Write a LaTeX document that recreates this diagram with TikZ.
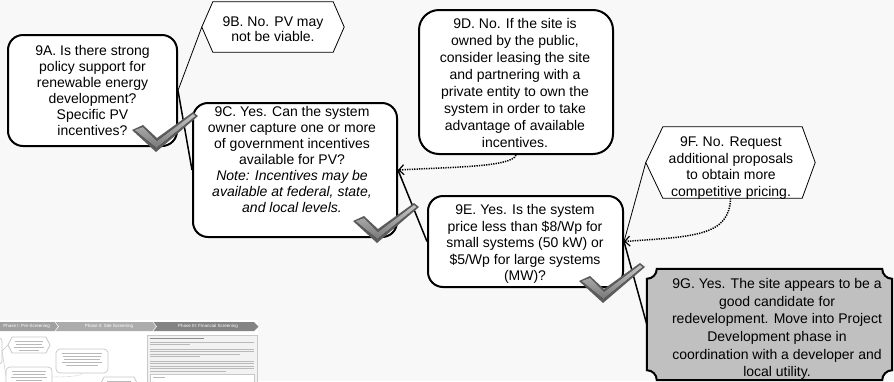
\documentclass[tikz,border=0pt]{standalone}
\usepackage{fontspec}
\setmainfont{Liberation Sans}
\usetikzlibrary{arrows.meta,fit}
\definecolor{bg}{RGB}{248,248,248}
\definecolor{plaquefill}{RGB}{192,192,192}
\definecolor{tickdark}{RGB}{92,92,92}
\definecolor{ticklight}{RGB}{196,196,196}
\definecolor{tickmid}{RGB}{120,120,120}
\definecolor{minigray}{RGB}{200,200,200}
\definecolor{minitext}{RGB}{185,185,185}
\definecolor{phaseA}{RGB}{160,160,160}
\definecolor{phaseB}{RGB}{172,172,172}
\definecolor{phaseC}{RGB}{132,132,132}
\tikzset{
  checkmark/.pic={
    \fill[tickdark] (-24,-22) -- (-13,-27) -- (1,-14) -- (37,-40) -- (42,-36) -- (0,0) -- cycle;
    \fill[top color=ticklight, bottom color=tickmid]
      (-21.5,-22) -- (-13,-25) -- (1,-11) -- (37,-38) -- (39.5,-36) -- (0.5,-4) -- cycle;
  }
}
\begin{document}
\begin{tikzpicture}[x=1pt,y=-1pt,
  area/.style={inner sep=0pt},
  roundbox/.style={draw=black, line width=2pt, fill=white, rounded corners=15pt},
  bigroundbox/.style={draw=black, line width=2pt, fill=white, rounded corners=20pt},
  hexline/.style={draw=black, line width=0.8pt, fill=white, line join=miter},
  plaque/.style={draw=black, line width=2pt, fill=plaquefill},
  txt/.style={inner sep=0pt, align=center, font=\fontsize{14}{#1}\selectfont},
  txt/.default=16,
  yesline/.style={draw=black, line width=1.5pt},
  noline/.style={draw=black, line width=0.8pt},
  backarrow/.style={draw=black, line width=1.5pt, dash pattern=on 1.3pt off 1.1pt,
    -{Straight Barb[length=5pt,width=10pt,line width=1.2pt]}},
  mini/.style={draw=minigray, line width=0.7pt, fill=white},
  minibar/.style={draw=minitext, line width=0.9pt},
  minilabel/.style={inner sep=0pt, text=white, font=\fontsize{4.5}{5}\selectfont}
]
\useasboundingbox (0,0) rectangle (894,381);
\fill[bg] (0,0) rectangle (894,381);

% ---------- miniature of the full screening chart ----------
\fill[white] (0,320) rectangle (258,381);
\fill[phaseA] (-30,322) -- (55,322) -- (58.5,326.5) -- (55,331) -- (-30,331) -- cycle;
\fill[phaseB] (55,322) -- (153,322) -- (156.5,326.5) -- (153,331) -- (55,331) -- (58.5,326.5) -- cycle;
\fill[phaseC] (153,322) -- (254,322) -- (258.5,326.5) -- (254,331) -- (153,331) -- (156.5,326.5) -- cycle;
\draw[white, line width=0.5pt] (55,322) -- (58.5,326.5) -- (55,331) (153,322) -- (156.5,326.5) -- (153,331);
\node[minilabel, anchor=east] (ph1) at (50,326.6) {Phase I: Pre-Screening};
\node[minilabel] (ph2) at (109,326.6) {Phase II: Site Screening};
\node[minilabel] (ph3) at (208,326.6) {Phase III: Financial Screening};

\draw[mini, rounded corners=3pt] (-20,338) rectangle (2,364);
\draw[minigray, line width=0.5pt] (2,351) -- (8,345) (2,351) -- (6,376);
\draw[minigray, line width=0.5pt, dash pattern=on 0.6pt off 0.6pt] (82,373) .. controls (82,376) and (70,377) .. (52,377);
\draw[mini] (8,345) -- (12,337) -- (46,337) -- (50,345) -- (46,353) -- (12,353) -- cycle;
\foreach \yy/\ww in {341/14,344/13,347/15,350/10} \draw[minibar] (29-\ww,\yy) -- (29+\ww,\yy);
\draw[mini, rounded corners=4pt] (56,349) rectangle (108,373);
\foreach \yy/\ww in {353/20,356/19,359/18,362/20,365/16} \draw[minibar] (82-\ww,\yy) -- (82+\ww,\yy);
\draw[mini, rounded corners=4pt] (6,367) rectangle (52,392);
\foreach \yy/\ww in {371/17,374/16,377/18,380/13} \draw[minibar] (29-\ww,\yy) -- (29+\ww,\yy);
\draw[mini] (100,385) -- (104,377) -- (134,377) -- (138,385) -- (134,393) -- (104,393) -- cycle;
\foreach \yy/\ww in {381/12} \draw[minibar] (119-\ww,\yy) -- (119+\ww,\yy);
\draw[draw=minigray, fill=black!5, line width=0.7pt] (147,335) rectangle (257,390);
\draw[draw=black!45, line width=1pt] (150,338.5) -- (204,338.5);
\foreach \yy/\xe in {342/254,344.5/190,349/254,351.5/254,354/240,356.5/200,361/254,363.5/254,366/254,368.5/254,371/226}
  \draw[minibar] (150,\yy) -- (\xe,\yy);
\draw[mini] (150,374.5) rectangle (254,390);
\draw[minibar] (153,377) -- (165,377);

% ---------- decision boxes ----------
\node[fit={(8,35) (177,146)}, area, roundbox] (A) {};
\node[fit={(202,2) (344,52)}, area] (B) {};
\node[fit={(193,103) (397,237)}, area, roundbox] (C) {};
\node[fit={(419,10) (613,154)}, area, bigroundbox] (D) {};
\node[fit={(428,196) (623,287)}, area, roundbox] (E) {};
\node[fit={(646,127) (815,198)}, area] (F) {};
\node[fit={(647,269) (892,380)}, area] (G) {};

\draw[hexline] (B.west) -- ([xshift=11pt]B.north west) -- ([xshift=-11pt]B.north east) -- (B.east)
  -- ([xshift=-11pt]B.south east) -- ([xshift=11pt]B.south west) -- cycle;
\draw[hexline] (F.west) -- ([xshift=17pt]F.north west) -- ([xshift=-13pt]F.north east) -- (F.east)
  -- ([xshift=-13pt]F.south east) -- ([xshift=17pt]F.south west) -- cycle;
\draw[plaque] ([xshift=10pt]G.north west) -- ([xshift=-10pt]G.north east) arc[start angle=180,end angle=90,radius=10]
  -- ([yshift=10pt]G.south east) arc[start angle=270,end angle=180,radius=10]
  -- ([xshift=10pt]G.south west) arc[start angle=0,end angle=-90,radius=10]
  -- ([yshift=-10pt]G.north west) arc[start angle=90,end angle=0,radius=10] -- cycle;

% ---------- connectors ----------
\draw[noline] (A.east) -- (B.west);
\draw[yesline] (A.east) -- (C.west);
\draw[yesline] (C.east) -- (E.west);
\draw[noline] (E.east) -- (F.west);
\draw[yesline] (E.east) -- (G.west);
\draw[backarrow] (D.south) .. controls +(-4,12) and +(55,-3) .. (C.east);
\draw[backarrow] (F.south) .. controls +(-1,38) and +(70,-5) .. (E.east);

% ---------- texts ----------
\node[txt] (tA) at (92.5,90) {9A. Is there strong\\policy support for\\renewable energy\\development?\\Specific PV\\incentives?};
\node[txt=15] (tB) at (273,29) {9B. No. PV may\\not be viable.};
\node[txt] (tC) at (292,159) {9C. Yes. Can the system\\owner capture one or more\\of government incentives\\available for PV?\\\itshape Note: Incentives may be\\\itshape available at federal, state,\\\itshape and local levels.};
\node[txt=17] (tD) at (515,82.5) {9D. No. If the site is\\owned by the public,\\consider leasing the site\\and partnering with a\\private entity to own the\\system in order to take\\advantage of available\\incentives.};
\node[txt=16.5] (tE) at (525,244) {9E. Yes. Is the system\\price less than \$8/Wp for\\small systems (50 kW) or\\\$5/Wp for large systems\\(MW)?};
\node[txt=16.7] (tF) at (731,168) {9F. No. Request\\additional proposals\\to obtain more\\competitive pricing.};
\node[txt=17.7] (tG) at (777,329) {9G. Yes. The site appears to be a\\good candidate for\\redevelopment. Move into Project\\Development phase in\\coordination with a developer and\\local utility.};

% ---------- check marks on the "yes" branches ----------
\pic at (156,152) {checkmark};
\pic at (377,243) {checkmark};
\pic at (603,303) {checkmark};
\end{tikzpicture}
\end{document}
